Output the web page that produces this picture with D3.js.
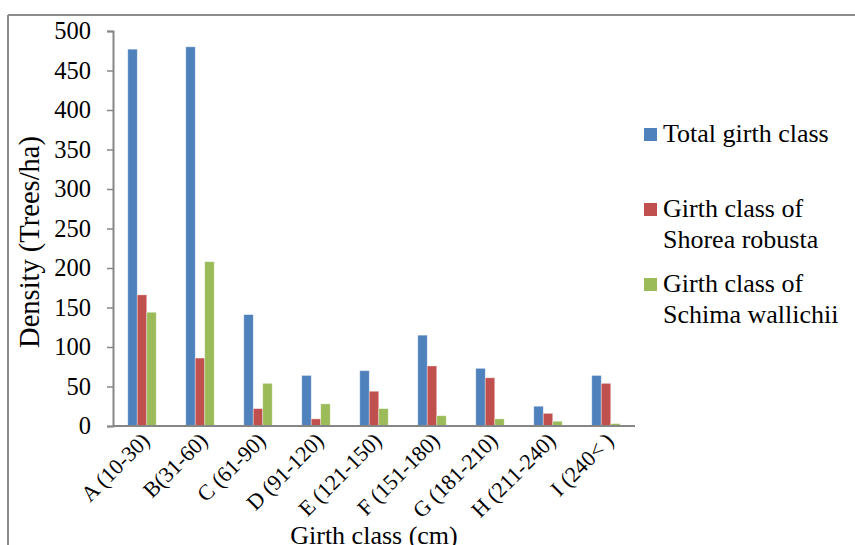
<!DOCTYPE html>
<html>
<head>
<meta charset="utf-8">
<script src="https://cdn.jsdelivr.net/npm/d3@7"></script>
<style>
  html, body { margin: 0; padding: 0; background: #fff; }
  svg { display: block; }
  text { font-family: "Liberation Serif", "Times New Roman", serif; fill: #000; }
</style>
</head>
<body>
<svg id="chart" width="855" height="545"></svg>
<script>
const categories = ["A (10-30)", "B(31-60)", "C (61-90)", "D (91-120)", "E (121-150)", "F (151-180)", "G (181-210)", "H (211-240)", "I (240< )"];
const seriesNames = ["Total girth class", "Girth class of Shorea robusta", "Girth class of Schima wallichii"];
const totalGirth = [477, 480, 141, 64, 70, 115, 73, 25, 64];
const shoreaRobusta = [166, 86, 22, 9, 44, 76, 61, 16, 54];
const schimaWallichii = [144, 208, 54, 28, 22, 13, 9, 6, 3];
const yTicks = [0, 50, 100, 150, 200, 250, 300, 350, 400, 450, 500];
const colors = ["#4F81BD", "#C0504D", "#9BBB59"];
const legendLines = [["Total girth class"], ["Girth class of", "Shorea robusta"], ["Girth class of", "Schima wallichii"]];

const seriesValues = [totalGirth, shoreaRobusta, schimaWallichii];
const svg = d3.select("#chart");
const serif = '"Liberation Serif", "Times New Roman", serif';

// outer frame (top and left only visible)
svg.append("line").attr("x1", 8).attr("y1", 15).attr("x2", 855).attr("y2", 15)
  .attr("stroke", "#8c8c8c").attr("stroke-width", 2);
svg.append("line").attr("x1", 8).attr("y1", 15).attr("x2", 8).attr("y2", 545)
  .attr("stroke", "#8c8c8c").attr("stroke-width", 2);

const plot = { left: 113, right: 635, top: 31, bottom: 426 };

const x0 = d3.scaleBand().domain(categories).range([plot.left, plot.right])
  .paddingInner(0.51).paddingOuter(0.255);
const x1 = d3.scaleBand().domain(d3.range(seriesNames.length)).range([0, x0.bandwidth()]);
const y = d3.scaleLinear().domain([0, 500]).range([plot.bottom, plot.top]);

// bars
const groups = svg.append("g").selectAll("g").data(categories).join("g")
  .attr("transform", d => `translate(${x0(d)},0)`);
groups.selectAll("rect")
  .data((d, i) => seriesValues.map((s, k) => ({ k, v: s[i] })))
  .join("rect")
  .attr("x", d => x1(d.k))
  .attr("y", d => y(d.v))
  .attr("width", x1.bandwidth())
  .attr("height", d => y(0) - y(d.v))
  .attr("fill", d => colors[d.k])
  .attr("stroke", "rgba(255,255,255,0.45)")
  .attr("stroke-width", 0.8);

// y axis
const yAxis = d3.axisLeft(y).tickValues(yTicks).tickSize(6).tickPadding(16);
const gy = svg.append("g").attr("transform", `translate(${plot.left},0)`).call(yAxis);
gy.attr("font-family", serif);
gy.select(".domain").attr("stroke", "#868686").attr("stroke-width", 2);
gy.selectAll(".tick line").attr("stroke", "#868686").attr("stroke-width", 1.5);
gy.selectAll(".tick text").style("font-size", "24.5px")
  .style("font-family", serif).attr("fill", "#000");

// x axis
const xAxis = d3.axisBottom(x0).tickSize(0).tickPadding(0);
const gx = svg.append("g").attr("transform", `translate(0,${plot.bottom})`).call(xAxis);
gx.attr("font-family", serif);
gx.select(".domain").attr("stroke", "#868686").attr("stroke-width", 2)
  .attr("d", `M${plot.left},0H${plot.right}`);
gx.selectAll(".tick text")
  .style("font-size", "22px")
  .style("font-family", serif)
  .attr("fill", "#000")
  .attr("text-anchor", "end")
  .attr("dy", null)
  .attr("y", 0)
  .attr("transform", "translate(9,16) rotate(-45)");

// axis titles
svg.append("text").attr("transform", "translate(39,242) rotate(-90)")
  .attr("text-anchor", "middle").style("font-size", "28.5px").text("Density (Trees/ha)");
svg.append("text").attr("x", 374).attr("y", 544)
  .attr("text-anchor", "middle").style("font-size", "26px").text("Girth class (cm)");

// legend
const legendY = [142, 217, 292];
legendLines.forEach((lines, i) => {
  svg.append("rect").attr("x", 644).attr("y", legendY[i] - 14).attr("width", 13).attr("height", 13)
    .attr("fill", colors[i]);
  lines.forEach((ln, j) => {
    svg.append("text").attr("x", 663).attr("y", legendY[i] + j * 31)
      .style("font-size", "26px").text(ln);
  });
});
</script>
</body>
</html>
